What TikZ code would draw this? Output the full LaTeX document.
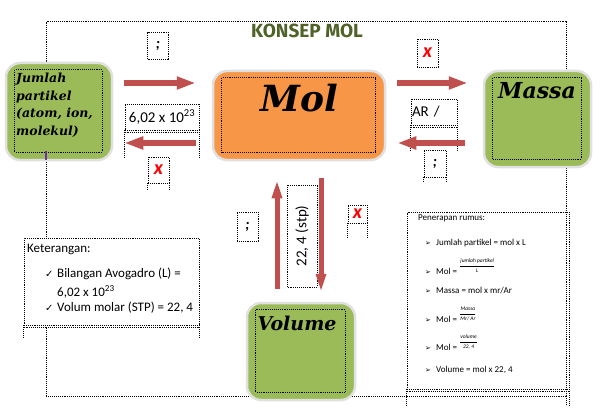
\documentclass[tikz,border=0pt]{standalone}
\usepackage{amsmath}
\usepackage{fontspec}
\setmainfont{Carlito}
\newfontfamily\hiasfont{DejaVu Serif}
\newfontfamily\judulfont{Fira Sans}
\newfontfamily\simbolfont{DejaVu Sans}
\usetikzlibrary{arrows.meta}
\definecolor{hijau}{RGB}{155,187,89}
\definecolor{oranye}{RGB}{247,150,70}
\definecolor{merahpanah}{RGB}{192,80,77}
\definecolor{zaitun}{RGB}{79,98,40}
\definecolor{ungu}{RGB}{112,48,160}

\begin{document}
\begin{tikzpicture}[
    x=1pt, y=-1pt,
    kotak/.style={
        draw=black!12,
        line width=2.5pt,
        rounded corners=14pt,
        fill=hijau,
        inner sep=0pt
    },
    titik/.style={
        line width=0.8pt,
        dash pattern=on 0.8pt off 1.1pt
    },
    teksbox/.style={
        titik,
        draw,
        inner sep=1pt,
        font=\fontsize{15}{17}\selectfont
    },
    tandaX/.style={
        text=red,
        font=\fontsize{20}{20}\selectfont\bfseries\itshape
    },
    hias/.style={
        inner sep=0pt,
        font=\hiasfont\bfseries\itshape\fontsize{#1}{#1}\selectfont
    },
    teks/.style={
        anchor=base west,
        inner sep=0pt,
        font=\fontsize{#1}{#1}\selectfont
    },
    panah/.style={
        draw=merahpanah,
        line width=6pt,
        -{Triangle[length=19pt, width=12pt]}
    },
    tegak/.style={
        draw=merahpanah,
        line width=5pt,
        -{Triangle[length=20pt, width=9pt]}
    }
]
\useasboundingbox (0,0) rectangle (605,412);

% bingkai luar
\draw[titik] (46,237) -- (46,21) -- (566,21) -- (566,406);
\draw[titik] (46,328) -- (46,396) -- (566,396);

\node[font=\judulfont\bfseries\fontsize{19}{19}\selectfont, text=zaitun] (judul) at (307,31) {KONSEP MOL};

% kotak utama
\node[kotak, minimum width=106pt, minimum height=97pt] (jumlah) at (59,111.5) {};
\node[kotak, fill=oranye, minimum width=172pt, minimum height=89pt] (mol) at (299,115.5) {};
\node[kotak, minimum width=107pt, minimum height=96pt] (massa) at (537.5,119) {};
\node[kotak, minimum width=108pt, minimum height=97pt] (volume) at (301,351.5) {};

\foreach \k in {jumlah, mol, massa, volume}
    \draw[titik] ([shift={(10,8)}]\k.north west) rectangle ([shift={(-11,-9)}]\k.south east);

\draw[ungu, line width=1.2pt] (46,151) -- (46,160);

\node[anchor=north west, align=left, inner sep=0pt,
      font=\hiasfont\bfseries\itshape\fontsize{12.5}{17.5}\selectfont] (tJumlah) at (16,73)
{Jumlah\\partikel\\(atom, ion,\\molekul)};
\node[hias=36] (tMol) at (299,98) {Mol};
\node[hias=22] (tMassa) at (537,91) {Massa};
\node[hias=19] (tVolume) at (297,323) {Volume};

% kotak teks bertitik
\node[teksbox, minimum width=21pt, minimum height=27pt] (tk1) at (158,45.5) {\textbf{\textit{;}}};
\node[teksbox, tandaX, minimum width=21pt, minimum height=28pt] (x1) at (427.5,53) {x};

\node[teksbox, minimum width=74pt, minimum height=26pt] (b602) at (162,117) {6,02 x 10\textsuperscript{23}};
\draw[titik] ([yshift=-2pt]b602.south west) -- ([yshift=-2pt]b602.south east);
\draw[titik] (b602.south west) -- ++(0,27);
\draw[titik] (b602.south east) -- ++(0,27);

\node[teksbox, tandaX, minimum width=21pt, minimum height=26pt] (x2) at (158.5,170) {x};
\draw[titik] (x2.south west) -- ++(0,6);
\draw[titik] (x2.south east) -- ++(0,6);

\node[teksbox, minimum width=46pt, minimum height=26pt, text width=44pt, align=left] (bAR) at (434,112) {AR /};
\draw[titik] ([yshift=-2pt]bAR.south west) -- ([yshift=-2pt]bAR.south east);
\draw[titik] (bAR.south west) -- ++(0,26);
\draw[titik] (bAR.south east) -- ++(0,26);

\node[teksbox, minimum width=22pt, minimum height=27pt] (tk2) at (435,163.5) {\textbf{\textit{;}}};
\draw[titik] (tk2.south west) -- ++(0,5);
\draw[titik] (tk2.south east) -- ++(0,5);

\node[teksbox, rotate=90, minimum width=102pt, minimum height=30pt] (bStp) at (302,236) {22, 4 (stp)};
\node[teksbox, minimum width=21pt, minimum height=29pt] (tk3) at (247.5,226.5) {\textbf{\textit{;}}};
\node[teksbox, tandaX, minimum width=19pt, minimum height=18pt] (x3) at (357.5,214) {x};
\draw[titik] (x3.south west) -- ++(0,14);
\draw[titik] (x3.south east) -- ++(0,14);

% panah
\coordinate (atas) at (0,83);
\coordinate (bawah) at (0,143);
\coordinate (kiri) at (277,0);
\coordinate (kanan) at (321,0);

\draw[panah, shorten <=11pt, shorten >=16pt] (jumlah.east |- atas) -- (mol.west |- atas);
\draw[panah, shorten <=16pt, shorten >=11pt] (mol.west |- bawah) -- (jumlah.east |- bawah);
\draw[panah, shorten <=11pt, shorten >=15pt] (mol.east |- atas) -- (massa.west |- atas);
\draw[panah, shorten <=18pt, shorten >=11pt] (massa.west |- bawah) -- (mol.east |- bawah);
\draw[tegak, shorten <=13pt, shorten >=17pt] (volume.north -| kiri) -- (mol.south -| kiri);
\draw[tegak, shorten <=17pt, shorten >=8pt] (mol.south -| kanan) -- (volume.north -| kanan);

% keterangan
\node[draw, titik, inner sep=0pt, minimum width=175pt, minimum height=87pt] (ket) at (111.5,281.5) {};
\draw[titik] ([yshift=-2pt]ket.south west) -- ([yshift=-2pt]ket.south east);
\draw[titik] (ket.south west) -- ++(0,12);
\draw[titik] (ket.south east) -- ++(0,12);
\node[teks=13] (ketJudul) at (27,252) {Keterangan:};
\node[teks=10] (cek1) at (45,277) {\simbolfont ✓};
\node[teks=13] (ket1) at (57,277) {Bilangan Avogadro (L) =};
\node[teks=13] (ket2) at (57,296) {6,02 x 10\textsuperscript{23}};
\node[teks=10] (cek2) at (45,311) {\simbolfont ✓};
\node[teks=13] (ket3) at (57,311) {Volum molar (STP) = 22, 4};

% penerapan rumus
\node[draw, titik, inner sep=0pt, minimum width=162pt, minimum height=177pt] (rumus) at (488,300.5) {};
\draw[titik] ([yshift=-2pt]rumus.south west) -- ([yshift=-2pt]rumus.south east);
\draw[titik] (rumus.south west) -- ++(0,16);
\draw[titik] (rumus.south east) -- ++(0,16);
\node[teks=9] (rJudul) at (418,220) {Penerapan rumus:};
\foreach \y/\n in {245/1, 274/2, 293/3, 322/4, 350/5, 372/6}
    \node[teks=7] (b\n) at (425,\y) {\simbolfont ➢};
\node[teks=9] (r1) at (436,245) {Jumlah partikel = mol x L};
\node[teks=9] (r2) at (436,274) {Mol = \raisebox{7pt}{\fontsize{5.5}{6}\selectfont$\dfrac{\textit{jumlah partikel}}{\textit{L}}$}};
\node[teks=9] (r3) at (436,293) {Massa = mol x mr/Ar};
\node[teks=9] (r4) at (436,322) {Mol = \raisebox{7pt}{\fontsize{5.5}{6}\selectfont$\dfrac{\textit{Massa}}{\textit{Mr/ Ar}}$}};
\node[teks=9] (r5) at (436,350) {Mol = \raisebox{7pt}{\fontsize{5.5}{6}\selectfont$\dfrac{\textit{volume}}{\textit{22, 4}}$}};
\node[teks=9] (r6) at (436,372) {Volume = mol x 22, 4};

\end{tikzpicture}
\end{document}
